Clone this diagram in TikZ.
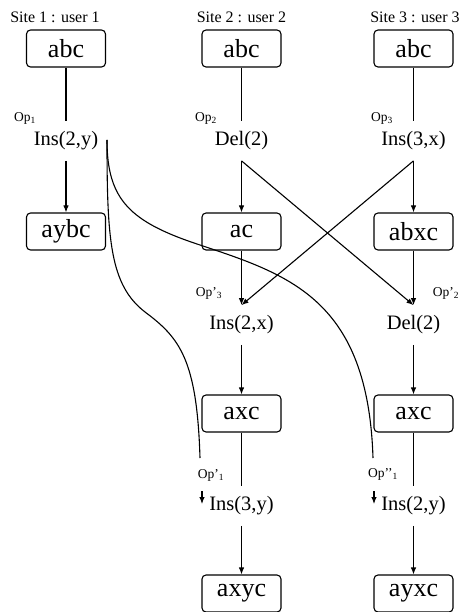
\documentclass[tikz,border=0pt]{standalone}
\usepackage{fontspec}
\setmainfont{Liberation Serif}
\usetikzlibrary{arrows.meta}

\begin{document}
\begin{tikzpicture}[x=1pt,y=-1pt,line width=1.1pt,>={Latex[length=7pt,width=5.5pt]},
  state/.style={draw,rounded corners=4pt,minimum width=79pt,minimum height=37pt,inner sep=0pt,font=\fontsize{26}{30}\selectfont},
  oper/.style={inner xsep=2pt,inner ysep=10pt,font=\fontsize{20.5}{24}\selectfont},
  oplabel/.style={inner sep=0pt,font=\fontsize{13.5}{16}\selectfont},
  site/.style={inner sep=0pt,font=\fontsize{16}{19}\selectfont}]
\useasboundingbox (0,0) rectangle (464,612);

% sites
\node[site] (s1) at (55,17) {Site 1 : user 1};
\node[site] (s2) at (241.5,17) {Site 2 : user 2};
\node[site] (s3) at (415,17) {Site 3 : user 3};

\node[state] (a1) at (66,48.5) {abc};
\node[state] (a2) at (241.5,48.5) {abc};
\node[state] (a3) at (413.5,48.5) {abc};

% original operations
\node[oper] (o1) at (66,141) {Ins(2,y)};
\node[oper] (o2) at (241.5,141) {Del(2)};
\node[oper] (o3) at (413.5,141) {Ins(3,x)};
\node[oplabel] (l1) at (25,118) {Op\textsubscript{1}};
\node[oplabel] (l2) at (206,118) {Op\textsubscript{2}};
\node[oplabel] (l3) at (382,118) {Op\textsubscript{3}};

\node[state] (b1) at (66,231.5) {aybc};
\node[state] (b2) at (241.5,231.5) {ac};
\node[state] (b3) at (413.5,231.5) {abxc};

% transformed operations
\node[oper] (t2) at (241.5,325) {Ins(2,x)};
\node[oper] (t3) at (413.5,325) {Del(2)};
\node[oplabel] (m3) at (209,293) {Op’\textsubscript{3}};
\node[oplabel] (m2) at (446,293) {Op’\textsubscript{2}};

\node[state] (c2) at (241.5,413.5) {axc};
\node[state] (c3) at (413.5,413.5) {axc};

\node[oper] (u2) at (241.5,506) {Ins(3,y)};
\node[oper] (u3) at (413.5,506) {Ins(2,y)};
\node[oplabel] (n2) at (211,475) {Op’\textsubscript{1}};
\node[oplabel] (n3) at (383,474) {Op’’\textsubscript{1}};

\node[state] (d2) at (241.5,593.5) {axyc};
\node[state] (d3) at (413.5,593.5) {ayxc};

\foreach \i in {1,2,3}
\draw (a\i) -- (o\i);
\foreach \i in {1,2,3}
\draw[->] (o\i) -- (b\i);

\draw[->] (o2.south) -- (t3.north);
\draw[->] (o3.south) -- (t2.north);
\draw[->] (b2) -- (t2);
\draw[->] (b3) -- (t3);
\draw[->] (t2) -- (c2);
\draw[->] (t3) -- (c3);
\draw (c2) -- (u2);
\draw (c3) -- (u3);
\draw[->] (u2) -- (d2);
\draw[->] (u3) -- (d3);

% Op1 sent to sites 2 and 3
\coordinate (k) at (107,140);
\coordinate (e2) at (200,458);
\coordinate (e3) at (373,458);
\draw (k) .. controls (107,240) and (110,285) .. (145,312) .. controls (180,338) and (197,360) .. (e2);
\draw (k) .. controls (107,200) and (130,222) .. (200,245) .. controls (290,275) and (368,300) .. (e3);
\coordinate (f2) at (202,491);
\coordinate (f3) at (374,491);
\draw[->] (f2) -- ++(0,13);
\draw[->] (f3) -- ++(0,13);
\end{tikzpicture}
\end{document}
